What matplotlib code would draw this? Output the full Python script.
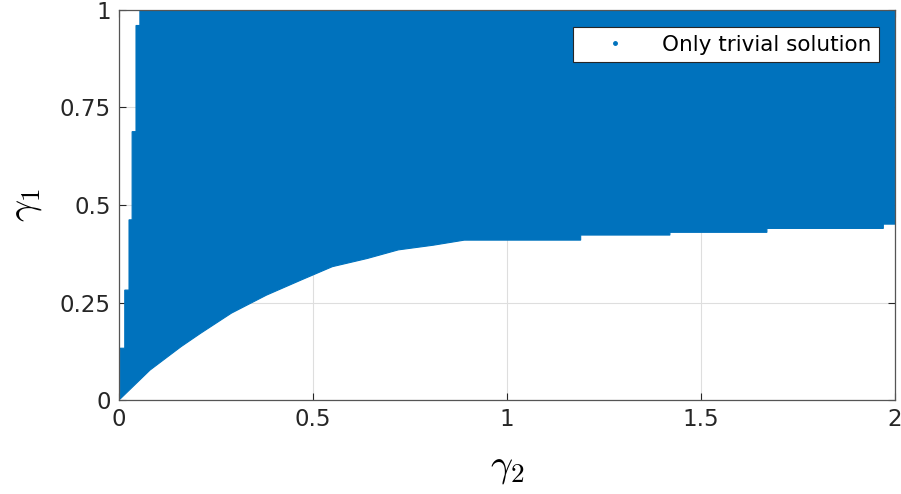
import numpy as np
import matplotlib.pyplot as plt
from matplotlib.lines import Line2D

# lower edge of the "only trivial solution" region (gamma2, gamma1)
low_g2 = [0.0, 0.08, 0.16, 0.21, 0.29, 0.38, 0.47, 0.55, 0.64, 0.72, 0.81, 0.89,
          1.19, 1.19, 1.42, 1.42, 1.67, 1.67, 1.97, 1.97, 2.0]
low_g1 = [0.0, 0.077, 0.137, 0.171, 0.223, 0.269, 0.308, 0.342, 0.363, 0.385, 0.397, 0.41,
          0.41, 0.423, 0.423, 0.43, 0.43, 0.44, 0.44, 0.451, 0.451]

# left edge staircase: gamma2 where the region starts, and the gamma1 it reaches
left_g2 = [0.003, 0.015, 0.026, 0.034, 0.044, 0.054]
left_top = [0.133, 0.282, 0.462, 0.688, 0.96, 1.0]

xticks = [0, 0.5, 1, 1.5, 2]
xticklabels = ['0', '0.5', '1', '1.5', '2']
yticks = [0, 0.25, 0.5, 0.75, 1]
yticklabels = ['0', '0.25', '0.5', '0.75', '1']

blue = '#0072BD'

plt.rcParams['mathtext.fontset'] = 'cm'

fig = plt.figure(figsize=(9.01, 4.94), dpi=100)
ax = fig.add_axes([0.132, 0.19, 0.8613, 0.79])

# region outline: left staircase up, across the top, lower edge back
px = [left_g2[0]]
py = [np.interp(left_g2[0], low_g2, low_g1)]
for i in range(len(left_g2)):
    px.append(left_g2[i])
    py.append(left_top[i])
    if i + 1 < len(left_g2):
        px.append(left_g2[i + 1])
        py.append(left_top[i])
px.append(2.0)
py.append(1.0)
for x, y in zip(low_g2[::-1], low_g1[::-1]):
    if x >= left_g2[0]:
        px.append(x)
        py.append(y)
ax.fill(px, py, color=blue, edgecolor=blue, lw=0.8, zorder=2)

ax.set_xlim(0, 2)
ax.set_ylim(0, 1)
ax.set_xticks(xticks)
ax.set_xticklabels(xticklabels)
ax.set_yticks(yticks)
ax.set_yticklabels(yticklabels)
ax.grid(True, color='#dedede', lw=0.8, zorder=0)
ax.set_axisbelow(True)
ax.tick_params(direction='in', top=True, right=True, length=5, width=0.8,
               labelsize=16.5, colors='#262626', pad=6)
for s in ax.spines.values():
    s.set_color('#555555')
    s.set_linewidth(0.9)
    s.set_zorder(3)

ax.set_xlabel(r'$\gamma_2$', fontsize=28, labelpad=12)
ax.set_ylabel(r'$\gamma_1$', fontsize=28, labelpad=11)

handle = Line2D([], [], marker='.', ls='none', color=blue, markersize=5)
leg = ax.legend([handle], ['Only trivial solution'], loc='upper right',
                bbox_to_anchor=(0.9794, 0.956), borderaxespad=0, fontsize=15.5,
                frameon=True, fancybox=False, edgecolor='#262626', framealpha=1,
                handlelength=3.2, borderpad=0.35, handletextpad=0.6)
leg.get_frame().set_linewidth(0.8)

fig.savefig('out.png', dpi=100)
